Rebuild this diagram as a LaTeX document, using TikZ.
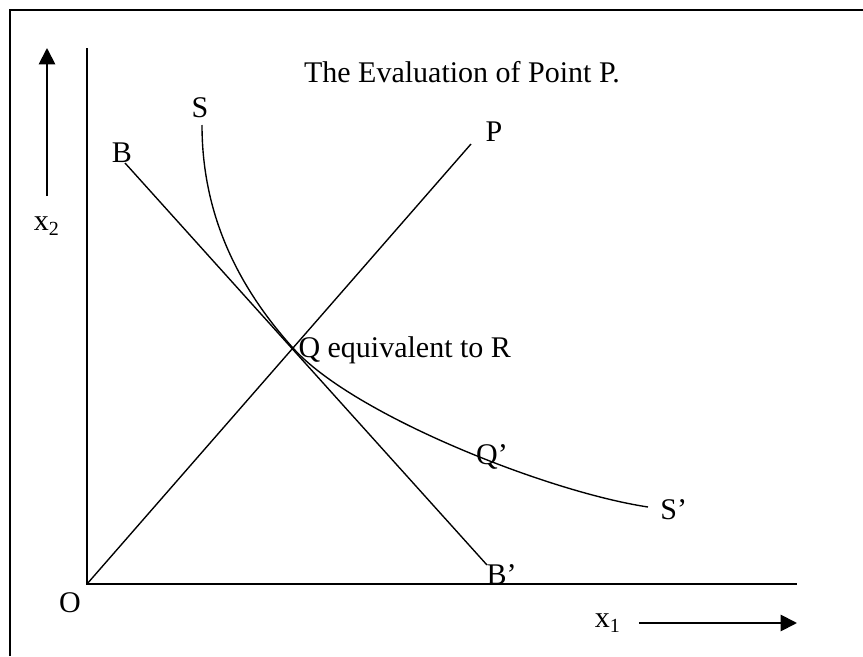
\documentclass[tikz,border=0pt]{standalone}
\usepackage{fontspec}
\setmainfont{Liberation Serif}
\usepackage{tikz}
\usetikzlibrary{arrows.meta,positioning}

\begin{document}
\begin{tikzpicture}[
    x=0.4pt,
    y=0.4pt,
    frameline/.style={
        draw=black,
        line width=0.8pt
    },
    axisline/.style={
        draw=black,
        line width=0.75pt
    },
    curveline/.style={
        draw=black,
        line width=0.55pt
    },
    dirarrow/.style={
        draw=black,
        line width=0.75pt,
        -{Triangle[length=6.5pt,width=6.5pt]}
    },
    lbl/.style={
        font=\fontsize{12}{14}\selectfont,
        inner sep=0pt
    }
]

\useasboundingbox (0,0) rectangle (863,656);

% frame (only left and top edges fall inside)
\draw[frameline] (10,0) -- (10,646) -- (863,646);

% axes
\coordinate (O) at (87,72);
\coordinate (ytop) at (87,608);
\coordinate (xend) at (797,72);
\draw[axisline] (ytop) -- (O) -- (xend);
\node[lbl] (olbl) at (70,53) {O};

% direction arrows
\coordinate (up0) at (47,460);
\coordinate (up1) at (47,608);
\draw[dirarrow] (up0) -- (up1);
\node[lbl] (x2lbl) at (47,430) {x\textsubscript{2}};

\coordinate (rt0) at (639,33);
\coordinate (rt1) at (797,33);
\draw[dirarrow] (rt0) -- (rt1);
\node[lbl] (x1lbl) at (608,33) {x\textsubscript{1}};

\node[lbl] (title) at (462,584) {The Evaluation of Point P.};

% budget line B--B'
\coordinate (bstart) at (125,493);
\coordinate (bend) at (487,91);
\draw[curveline] (bstart) -- (bend);
\node[lbl] (blbl) at (122,503) {B};
\node[lbl,anchor=west] (bplbl) at (486,81) {B’};

% ray O--P
\coordinate (pend) at (471,512);
\draw[curveline] (O) -- (pend);
\node[lbl] (plbl) at (494,524) {P};

% indifference curve S--S', tangent to B--B' at Q
\coordinate (sstart) at (202,531);
\coordinate (Q) at (293,308);
\coordinate (send) at (648,149);
\draw[curveline] (sstart) .. controls (202,440) and (239,368) .. (Q)
    .. controls (353,241) and (548,164) .. (send);
\node[lbl] (slbl) at (200,548) {S};
\node[lbl,anchor=west] (splbl) at (660,146) {S’};

\node[lbl,anchor=west] (qlbl) at ([xshift=2pt,yshift=-1pt]Q) {Q equivalent to R};
\node[lbl] (qplbl) at (492,199) {Q’};

\end{tikzpicture}
\end{document}
